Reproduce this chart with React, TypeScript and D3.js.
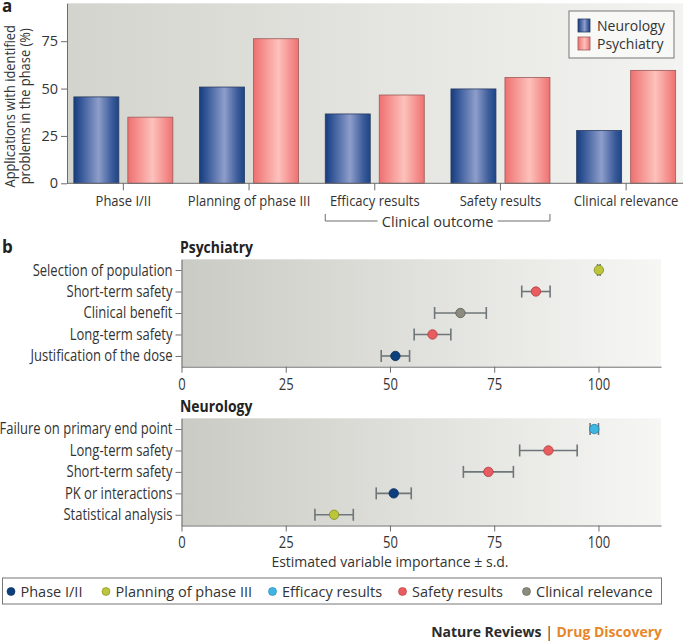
import React, { useRef, useEffect } from "react";
import { select, scaleLinear, scaleBand, scalePoint, scaleOrdinal, axisLeft, axisBottom } from "d3";

// panel a
const categories = ["Phase I/II", "Planning of phase III", "Efficacy results", "Safety results", "Clinical relevance"];
const seriesNames = ["Neurology", "Psychiatry"];
const neurologyPct = [45.6, 50.8, 36.6, 49.8, 27.9];
const psychiatryPct = [34.9, 76.3, 46.6, 55.8, 59.6];
const pctTicks = [0, 25, 50, 75];

// panel b
const psychLabels = ["Selection of population", "Short-term safety", "Clinical benefit", "Long-term safety", "Justification of the dose"];
const psychImportance = [100.1, 85.0, 66.9, 60.2, 51.3];
const psychSd = [0.3, 3.4, 6.2, 4.4, 3.4];
const psychPhase = ["Planning of phase III", "Safety results", "Clinical relevance", "Safety results", "Phase I/II"];

const neuroLabels = ["Failure on primary end point", "Long-term safety", "Short-term safety", "PK or interactions", "Statistical analysis"];
const neuroImportance = [99.0, 88.0, 73.6, 50.9, 36.6];
const neuroSd = [1.0, 6.9, 6.0, 4.2, 4.6];
const neuroPhase = ["Efficacy results", "Safety results", "Safety results", "Phase I/II", "Planning of phase III"];

const importanceTicks = [0, 25, 50, 75, 100];
const phaseColors = ["#0d3f7c", "#bcc63a", "#3fb6e2", "#e95c5f", "#8b8b80"];
const phaseStroke = ["#0a2d5a", "#7f8a1e", "#1f7fa8", "#a93c3f", "#5c5c54"];

const FONT = "'Open Sans', 'Noto Sans', sans-serif";
// no condensed face installed, so panel b labels get squeezed horizontally
const SQUEEZE = 0.84;

const App: React.FC = () => {
  const ref = useRef<SVGSVGElement>(null);

  useEffect(() => {
    const svg = select(ref.current);
    svg.selectAll("*").remove();
    const defs = svg.append("defs");

    const grad = (id: string, stops: [number, string][]) => {
      const g = defs.append("linearGradient").attr("id", id).attr("x1", 0).attr("x2", 1).attr("y1", 0).attr("y2", 0);
      stops.forEach(([o, c]) => g.append("stop").attr("offset", o).attr("stop-color", c));
    };
    grad("bgA", [[0, "#d4d4ce"], [1, "#f3f3f1"]]);
    grad("bgB", [[0, "#cbcbc5"], [1, "#f6f6f4"]]);
    grad("blueBar", [[0, "#163d7e"], [0.18, "#3a5b9b"], [0.55, "#8e9ecb"], [0.85, "#3a5a99"], [1, "#1c4586"]]);
    grad("pinkBar", [[0, "#ee7070"], [0.2, "#f48e8c"], [0.55, "#fdc1bc"], [0.85, "#f48c8a"], [1, "#ee7272"]]);

    const phase = scaleOrdinal<string, string>().domain(categories).range(phaseColors);
    const phaseLine = scaleOrdinal<string, string>().domain(categories).range(phaseStroke);

    // ---------- panel a ----------
    const aLeft = 67, aRight = 683, aTop = 3.3, aBottom = 183.3;
    const y = scaleLinear().domain([0, 95]).range([aBottom, aTop]);
    const x = scaleBand().domain(categories).range([60.5, 689]);
    const xSeries = scaleBand().domain(seriesNames).range([-49.5, 49.5]).paddingInner(1 / 6);

    svg.append("rect").attr("x", aLeft).attr("y", aTop).attr("width", aRight - aLeft).attr("height", aBottom - aTop).attr("fill", "url(#bgA)");

    const cx = (c: string) => (x(c) as number) + x.bandwidth() / 2;
    const values = [neurologyPct, psychiatryPct];
    seriesNames.forEach((s, si) => {
      svg.append("g")
        .selectAll("rect")
        .data(categories)
        .enter()
        .append("rect")
        .attr("x", (c) => cx(c) + (xSeries(s) as number))
        .attr("y", (c, i) => y(values[si][i]))
        .attr("width", xSeries.bandwidth())
        .attr("height", (c, i) => aBottom - y(values[si][i]))
        .attr("fill", si === 0 ? "url(#blueBar)" : "url(#pinkBar)")
        .attr("stroke", si === 0 ? "#2a3c60" : "#9c5a58")
        .attr("stroke-width", 0.8);
    });

    const yAxisG = svg.append("g").attr("transform", `translate(${aLeft},0)`)
      .call(axisLeft(y).tickValues(pctTicks).tickSize(6).tickSizeOuter(0).tickPadding(3));
    yAxisG.select(".domain").attr("stroke", "#6d6d6d");
    yAxisG.selectAll(".tick line").attr("stroke", "#6d6d6d");
    yAxisG.selectAll("text").attr("font-family", FONT).attr("font-size", 14.5).attr("fill", "#333");

    const xAxisG = svg.append("g").attr("transform", `translate(0,${aBottom})`)
      .call(axisBottom(x).tickSize(7).tickSizeOuter(0).tickPadding(6));
    xAxisG.select(".domain").remove();
    xAxisG.selectAll(".tick line").attr("stroke", "#6d6d6d");
    xAxisG.selectAll("text").attr("font-family", FONT).attr("font-size", 14).attr("fill", "#333")
      .attr("transform", "scale(0.93,1)");
    svg.append("line").attr("x1", aLeft).attr("x2", aRight).attr("y1", aBottom).attr("y2", aBottom).attr("stroke", "#6d6d6d");

    // clinical outcome bracket
    const bL = cx("Efficacy results") + (xSeries("Neurology") as number);
    const bR = cx("Safety results") + (xSeries("Psychiatry") as number) + xSeries.bandwidth();
    const bMid = (bL + bR) / 2;
    const bY = 221;
    svg.append("path")
      .attr("d", `M${bL},${bY - 7}V${bY}H${bMid - 60}M${bMid + 60},${bY}H${bR}V${bY - 7}`)
      .attr("fill", "none").attr("stroke", "#6d6d6d");
    svg.append("text").attr("x", bMid).attr("y", bY + 5.5).attr("text-anchor", "middle")
      .attr("font-family", FONT).attr("font-size", 14.5).attr("fill", "#333").text("Clinical outcome");

    // y label
    const yl = svg.append("g").attr("transform", `translate(0,${(aTop + aBottom) / 2 + 13}) rotate(-90) scale(0.92,1)`);
    yl.append("text").attr("x", 0).attr("y", 15).attr("text-anchor", "middle")
      .attr("font-family", FONT).attr("font-size", 14).attr("fill", "#333").text("Applications with identified");
    yl.append("text").attr("x", 0).attr("y", 30.5).attr("text-anchor", "middle")
      .attr("font-family", FONT).attr("font-size", 14).attr("fill", "#333").text("problems in the phase (%)");

    // legend a
    const lg = svg.append("g").attr("transform", "translate(569,11)");
    lg.append("rect").attr("width", 105).attr("height", 47).attr("fill", "#f8f8f6").attr("stroke", "#777");
    seriesNames.forEach((s, i) => {
      lg.append("rect").attr("x", 9).attr("y", 8 + i * 18).attr("width", 12).attr("height", 13)
        .attr("fill", i === 0 ? "url(#blueBar)" : "url(#pinkBar)").attr("stroke", i === 0 ? "#2a3c60" : "#9c5a58").attr("stroke-width", 0.8);
      lg.append("text").attr("x", 28).attr("y", 20 + i * 18).attr("font-family", FONT).attr("font-size", 14)
        .attr("fill", "#333").text(s);
    });

    svg.append("text").attr("x", 2).attr("y", 12).attr("font-family", FONT).attr("font-weight", 700)
      .attr("font-size", 17).attr("fill", "#222").text("a");

    // ---------- panel b ----------
    const bLeft = 181.5, bRight = 661;
    const xb = scaleLinear().domain([0, 115]).range([bLeft, bRight]);

    const dotPanel = (title: string, top: number, bottom: number, labels: string[], imp: number[], sd: number[], ph: string[]) => {
      const g = svg.append("g");
      g.append("rect").attr("x", bLeft).attr("y", top).attr("width", bRight - bLeft).attr("height", bottom - top).attr("fill", "url(#bgB)");
      g.append("text").attr("x", 180 / 0.9).attr("y", top - 6).attr("transform", "scale(0.9,1)")
        .attr("font-family", FONT).attr("font-weight", 700)
        .attr("font-size", 15.5).attr("fill", "#222").text(title);

      const yb = scalePoint().domain(labels).range([top, bottom]).padding(0.5);

      const la = g.append("g").attr("transform", `translate(${bLeft},0)`)
        .call(axisLeft(yb).tickSize(6).tickSizeOuter(0).tickPadding(3));
      la.select(".domain").attr("stroke", "#6d6d6d");
      la.selectAll(".tick line").attr("stroke", "#6d6d6d");
      la.selectAll("text").attr("font-family", FONT).attr("font-size", 15.5).attr("fill", "#333")
        .attr("x", -9 / SQUEEZE).attr("transform", `scale(${SQUEEZE},1)`);

      const ba = g.append("g").attr("transform", `translate(0,${bottom})`)
        .call(axisBottom(xb).tickValues(importanceTicks).tickSize(6).tickSizeOuter(0).tickPadding(6));
      ba.select(".domain").attr("stroke", "#6d6d6d");
      ba.selectAll(".tick line").attr("stroke", "#6d6d6d");
      ba.selectAll("text").attr("font-family", FONT).attr("font-size", 15.5).attr("fill", "#333")
        .attr("transform", `scale(${SQUEEZE},1)`);

      const rows = g.append("g").selectAll("g").data(labels).enter().append("g")
        .attr("transform", (d) => `translate(0,${yb(d)})`);
      rows.append("line").attr("x1", (d, i) => xb(imp[i] - sd[i])).attr("x2", (d, i) => xb(imp[i] + sd[i]))
        .attr("stroke", "#6f7679").attr("stroke-width", 1.6);
      rows.append("line").attr("x1", (d, i) => xb(imp[i] - sd[i])).attr("x2", (d, i) => xb(imp[i] - sd[i]))
        .attr("y1", -6).attr("y2", 6).attr("stroke", "#6f7679").attr("stroke-width", 1.6);
      rows.append("line").attr("x1", (d, i) => xb(imp[i] + sd[i])).attr("x2", (d, i) => xb(imp[i] + sd[i]))
        .attr("y1", -6).attr("y2", 6).attr("stroke", "#6f7679").attr("stroke-width", 1.6);
      rows.append("circle").attr("cx", (d, i) => xb(imp[i])).attr("r", 4.7)
        .attr("fill", (d, i) => phase(ph[i])).attr("stroke", (d, i) => phaseLine(ph[i])).attr("stroke-width", 0.8);
    };

    dotPanel("Psychiatry", 259.3, 366.7, psychLabels, psychImportance, psychSd, psychPhase);
    dotPanel("Neurology", 418.3, 525.5, neuroLabels, neuroImportance, neuroSd, neuroPhase);

    svg.append("text").attr("x", 2).attr("y", 253).attr("font-family", FONT).attr("font-weight", 700)
      .attr("font-size", 17).attr("fill", "#222").text("b");

    svg.append("text").attr("x", xb(50)).attr("y", 567).attr("text-anchor", "middle")
      .attr("font-family", FONT).attr("font-size", 14).attr("fill", "#333").text("Estimated variable importance \u00b1 s.d.");

    // legend b
    const lb = svg.append("g").attr("transform", "translate(2.5,578)");
    lb.append("rect").attr("width", 659).attr("height", 26).attr("fill", "#fff").attr("stroke", "#777");
    const legendX = [8.5, 103.5, 270, 400, 524];
    categories.forEach((c, i) => {
      lb.append("circle").attr("cx", legendX[i]).attr("cy", 13.5).attr("r", 4)
        .attr("fill", phase(c)).attr("stroke", phaseLine(c)).attr("stroke-width", 0.6);
      lb.append("text").attr("x", legendX[i] + 9.5).attr("y", 19).attr("font-family", FONT).attr("font-size", 14.5)
        .attr("fill", "#333").text(c);
    });

    // footer
    const ft = svg.append("text").attr("x", 662).attr("y", 637).attr("text-anchor", "end")
      .attr("font-family", FONT).attr("font-size", 14).attr("font-weight", 700);
    ft.append("tspan").attr("fill", "#2b2b2b").text("Nature Reviews ");
    ft.append("tspan").attr("fill", "#2b2b2b").attr("font-weight", 400).text("| ");
    ft.append("tspan").attr("fill", "#e8862a").text("Drug Discovery");
  }, []);

  return (
    <svg ref={ref} width={685} height={642} style={{ position: "absolute", left: 0, top: 0, background: "#fff" }} />
  );
};

export default App;
